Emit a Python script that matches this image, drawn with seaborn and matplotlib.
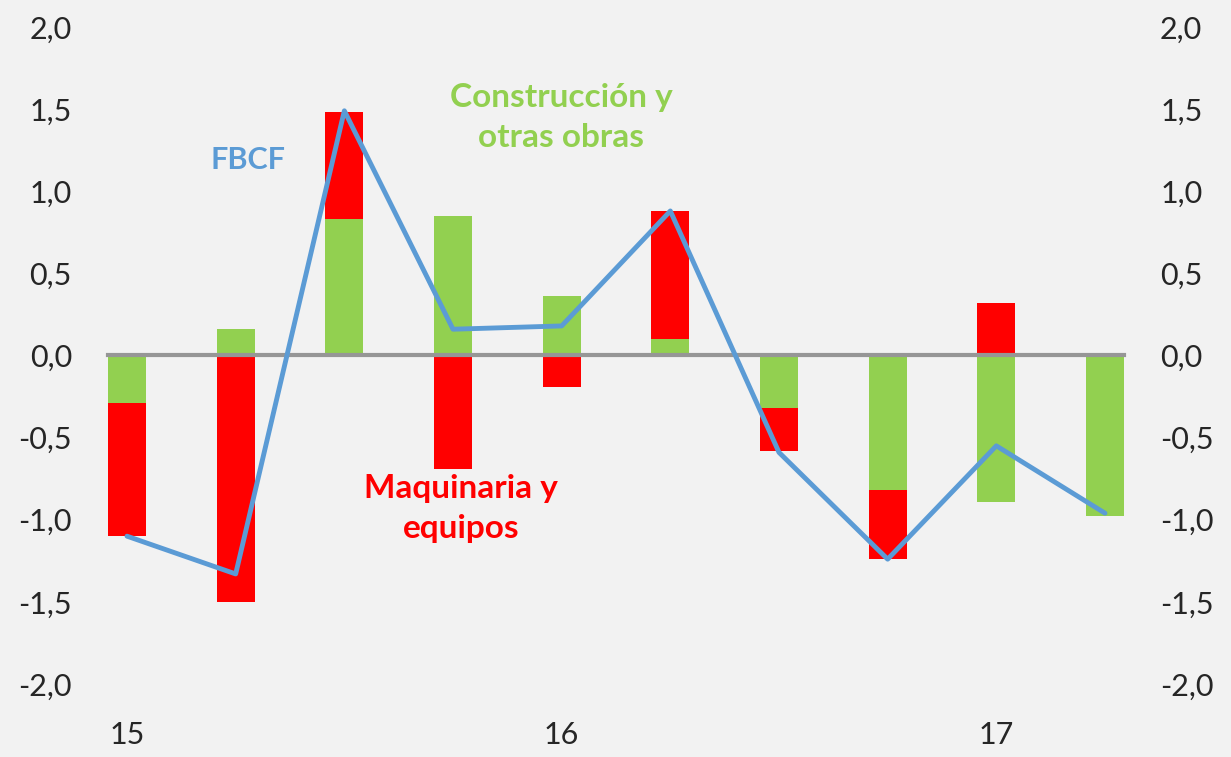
import matplotlib
matplotlib.use("Agg")
import matplotlib.pyplot as plt
import matplotlib.transforms as mtransforms
import seaborn as sns
import numpy as np
import pandas as pd

# quarterly contributions (pp), 2015Q1 .. 2017Q2
quarters = ["15-I", "15-II", "15-III", "15-IV", "16-I", "16-II", "16-III", "16-IV", "17-I", "17-II"]
construccion = [-0.29, 0.16, 0.83, 0.85, 0.36, 0.10, -0.32, -0.82, -0.89, -0.98]
maquinaria = [-0.81, -1.50, 0.65, -0.69, -0.19, 0.78, -0.26, -0.42, 0.32, 0.0]
fbcf = [-1.10, -1.33, 1.49, 0.16, 0.18, 0.88, -0.59, -1.24, -0.55, -0.96]
year_labels = ["15", "16", "17"]
year_pos = [0, 4, 8]
yticks = [-2.0, -1.5, -1.0, -0.5, 0.0, 0.5, 1.0, 1.5, 2.0]

GREEN = "#92D050"
RED = "#FF0000"
BLUE = "#5B9BD5"
GREY = "#969696"
BG = "#F2F2F2"

sns.set_style("white")
plt.rcParams["font.family"] = ["Lato", "DejaVu Sans"]

df = pd.DataFrame({"q": quarters, "cons": construccion, "maq": maquinaria, "fbcf": fbcf})
df["x"] = np.arange(len(df))
bw = 0.35
df["xc"] = df["x"] + bw / 2
# red stacks on top of green when both have the same sign
same = np.sign(df["cons"]) == np.sign(df["maq"])
df["maq_bottom"] = np.where(same, df["cons"], 0.0)

fig = plt.figure(figsize=(12.31, 7.57), dpi=100, facecolor=BG)
ax = fig.add_axes([108 / 1231, 1 - 684 / 757, (1124 - 108) / 1231, (684 - 27) / 757])
ax.set_facecolor(BG)

ax.bar(df["x"], df["cons"], width=bw, align="edge", color=GREEN, linewidth=0, zorder=2)
ax.bar(df["x"], df["maq"], width=bw, bottom=df["maq_bottom"], align="edge", color=RED,
       linewidth=0, zorder=2)
sns.lineplot(data=df, x="xc", y="fbcf", ax=ax, color=BLUE, linewidth=3.5, zorder=4, sort=False)

ax.set_xlim(0, len(df) - 1 + bw)
ax.set_ylim(-2.0, 2.0)
ax.set_xlabel("")
ax.set_ylabel("")

for s in ["top", "right", "left"]:
    ax.spines[s].set_visible(False)
ax.spines["bottom"].set_position(("data", 0))
ax.spines["bottom"].set_color(GREY)
ax.spines["bottom"].set_linewidth(3)
ax.spines["bottom"].set_zorder(3)
ax.set_xticks(year_pos)
ax.set_xticklabels([])
ax.tick_params(axis="x", direction="out", length=7, width=3, color=GREY)

fmt = lambda v: f"{v:.1f}".replace(".", ",")
ax.set_yticks(yticks)
ax.set_yticklabels([fmt(v) for v in yticks])
ax.tick_params(axis="y", length=0, pad=26, labelsize=22)

ax2 = ax.twinx()
ax2.set_ylim(-2.0, 2.0)
ax2.set_yticks(yticks)
ax2.set_yticklabels([fmt(v) for v in yticks])
ax2.tick_params(axis="y", length=0, pad=26, labelsize=22)
for s in ax2.spines.values():
    s.set_visible(False)

trans = mtransforms.blended_transform_factory(ax.transData, fig.transFigure)
for p, lab in zip(year_pos, year_labels):
    ax.text(p + bw / 2, 1 - 735 / 757, lab, transform=trans, ha="center", va="center", fontsize=22)

ax.text(1.29, 1.19, "FBCF", color=BLUE, fontsize=22, fontweight="bold", ha="center", va="center")
ax.text(4.17, 1.45, "Construcción y\notras obras", color=GREEN, fontsize=24, fontweight="bold",
        ha="center", va="center", linespacing=1.45)
ax.text(3.25, -0.93, "Maquinaria y\nequipos", color=RED, fontsize=24, fontweight="bold",
        ha="center", va="center", linespacing=1.45)

fig.savefig("out.png", dpi=100, facecolor=BG)
